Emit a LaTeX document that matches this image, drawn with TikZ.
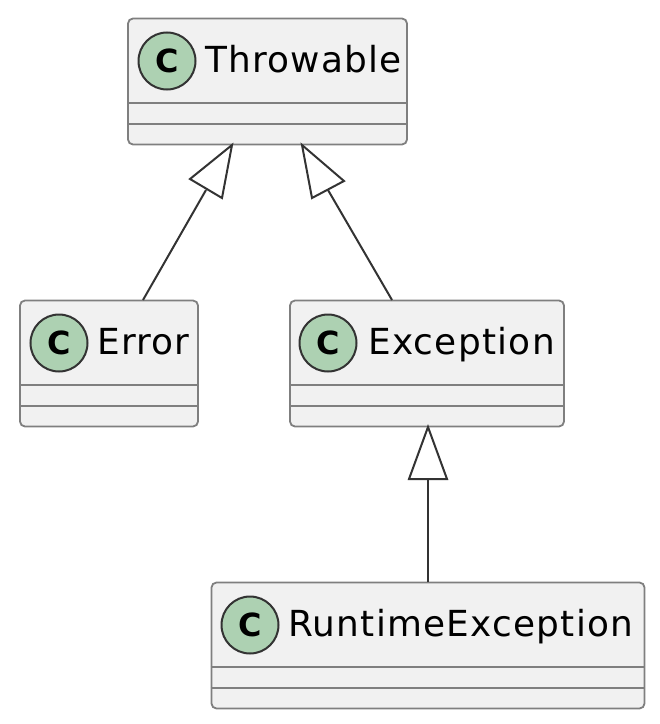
\documentclass[tikz,border=0pt]{standalone}
\usepackage{fontspec}
\setmainfont{DejaVu Sans}
\newfontfamily\namefont[LetterSpace=3.5]{DejaVu Sans}
\definecolor{boxfill}{HTML}{F1F1F1}
\definecolor{boxline}{HTML}{7F7F7F}
\definecolor{badge}{HTML}{ADD1B2}
\definecolor{edge}{HTML}{333333}
\begin{document}
\begin{tikzpicture}[x=1bp,y=-1bp,
  classbox/.style={draw=boxline,fill=boxfill,rounded corners=5bp,line width=1.8bp,minimum height=126bp,inner sep=0pt},
  sep/.style={draw=boxline,line width=1.8bp},
  badgec/.style={circle,draw=edge,fill=badge,line width=2bp,minimum size=57bp,inner sep=0pt,font=\bfseries\fontsize{32}{32}\selectfont},
  lab/.style={anchor=base west,inner sep=0pt,text=black,font=\namefont\fontsize{36}{38}\selectfont},
  rel/.style={draw=edge,line width=2bp},
  tri/.style={draw=edge,fill=white,line width=2bp,line join=miter}]
\useasboundingbox (0,0) rectangle (660,724);
% class boxes
\node[classbox,minimum width=279bp] (thr) at (267.5,81.5) {};
\node[classbox,minimum width=178bp] (err) at (109,363.5) {};
\node[classbox,minimum width=274bp] (exc) at (427,363.5) {};
\node[classbox,minimum width=433bp] (run) at (428,645.5) {};
% compartments
\foreach \n in {thr,err,exc,run}{
  \draw[sep] ([yshift=-21.5bp]\n.west) -- ([yshift=-21.5bp]\n.east);
  \draw[sep] ([yshift=-42.5bp]\n.west) -- ([yshift=-42.5bp]\n.east);
}
% badges and names
\node[badgec] (b1) at (167,61) {C};
\node[badgec] (b2) at (59,343) {C};
\node[badgec] (b3) at (328,343) {C};
\node[badgec] (b4) at (250,625) {C};
\node[lab] (t1) at (205,72.5) {Throwable};
\node[lab] (t2) at (97,354.5) {Error};
\node[lab] (t3) at (368,354.5) {Exception};
\node[lab] (t4) at (288,636.5) {RuntimeException};
% inheritance connectors
\coordinate (a1) at (232,145);
\coordinate (a2) at (302,145);
\coordinate (a3) at (428,427);
\coordinate (s1) at (143,300);
\coordinate (s2) at (392,300);
\coordinate (s3) at (428,582);
\draw[rel] (s1) -- (206,190);
\draw[rel] (s2) -- (328,190);
\draw[rel] (s3) -- (428,479);
\draw[tri] (a1) -- (222,198) -- (190,179) -- cycle;
\draw[tri] (a2) -- (344,181) -- (312,198) -- cycle;
\draw[tri] (a3) -- (447,479) -- (409,479) -- cycle;
\end{tikzpicture}
\end{document}
